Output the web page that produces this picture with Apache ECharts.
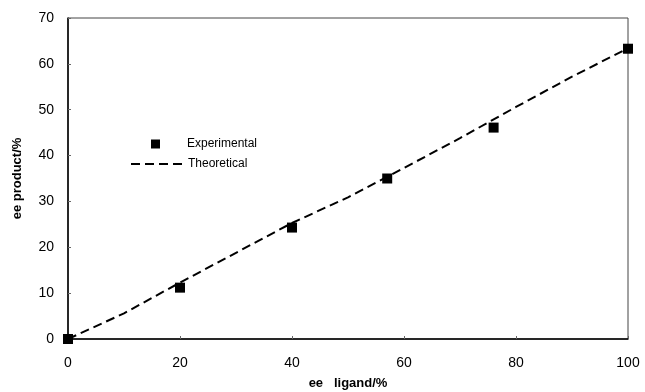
<!DOCTYPE html>
<html>
<head>
<meta charset="utf-8">
<script src="https://cdn.jsdelivr.net/npm/echarts@6/dist/echarts.min.js"></script>
<style>
  html, body { margin: 0; padding: 0; background: #fff; }
  #chart { width: 645px; height: 392px; }
</style>
</head>
<body>
<div id="chart"></div>
<script>
// measured points (ee ligand %, ee product %)
const expX = [0, 20, 40, 57, 76, 100];
const expY = [0, 11.2, 24.3, 35.0, 46.1, 63.3];

// theoretical curve
const theoX = [0, 10, 20, 30, 40, 50, 60, 70, 80, 90, 100];
const theoY = [0, 5.6, 12.3, 18.8, 25.3, 30.9, 37.3, 43.8, 50.6, 57.2, 63.4];

const xTicks = [0, 20, 40, 60, 80, 100];
const yTicks = [0, 10, 20, 30, 40, 50, 60, 70];

const font = 'Liberation Sans, Arial, sans-serif';

let chartDom = document.getElementById('chart');
let myChart = echarts.init(chartDom);

let option = {
  animation: false,
  textStyle: { fontFamily: font, color: '#000' },
  grid: {
    left: 68,
    right: 17,
    top: 18,
    bottom: 53,
    outerBoundsMode: 'none',
    containLabel: false,
    show: true,
    borderColor: '#444',
    borderWidth: 1,
  },
  legend: [
    {
      data: ['Experimental'],
      orient: 'vertical',
      left: 151,
      top: 138,
      padding: 0,
      itemWidth: 9,
      itemHeight: 9,
      textStyle: { fontSize: 12, fontFamily: font, color: '#000', padding: [0, 0, 0, 22] },
    },
    {
      data: ['Theoretical'],
      orient: 'vertical',
      left: 130,
      top: 158,
      padding: 0,
      itemWidth: 52,
      itemHeight: 10,
      itemStyle: { color: 'rgba(0,0,0,0)', borderWidth: 0 },
      textStyle: { fontSize: 12, fontFamily: font, color: '#000' },
    },
  ],
  xAxis: {
    type: 'value',
    min: xTicks[0],
    max: xTicks[xTicks.length - 1],
    interval: 20,
    name: 'ee   ligand/%',
    nameLocation: 'middle',
    nameGap: 38,
    nameTextStyle: { fontSize: 13, fontWeight: 'bold', fontFamily: font, color: '#000' },
    axisLine: { lineStyle: { color: '#000', width: 1.5 } },
    axisTick: { inside: true, length: 3, lineStyle: { color: '#666' } },
    axisLabel: { fontSize: 14, margin: 17, color: '#000', fontFamily: font },
    splitLine: { show: false },
  },
  yAxis: {
    type: 'value',
    min: yTicks[0],
    max: yTicks[yTicks.length - 1],
    interval: 10,
    name: 'ee product/%',
    nameLocation: 'middle',
    nameGap: 44,
    nameTextStyle: { fontSize: 13, fontWeight: 'bold', fontFamily: font, color: '#000' },
    axisLine: { lineStyle: { color: '#000', width: 1.5 } },
    axisTick: { inside: true, length: 3, lineStyle: { color: '#666' } },
    axisLabel: { fontSize: 14, margin: 14, color: '#000', fontFamily: font },
    splitLine: { show: false },
  },
  series: [
    {
      name: 'Theoretical',
      type: 'line',
      data: theoX.map((x, i) => [x, theoY[i]]),
      symbol: 'none',
      lineStyle: { color: '#000', width: 2, type: [9, 5] },
      itemStyle: { color: '#000' },
      z: 2,
    },
    {
      name: 'Experimental',
      type: 'scatter',
      data: expX.map((x, i) => [x, expY[i]]),
      symbol: 'rect',
      symbolSize: 10,
      itemStyle: { color: '#000', opacity: 1 },
      z: 3,
    },
  ],
};

myChart.setOption(option);
</script>
</body>
</html>
